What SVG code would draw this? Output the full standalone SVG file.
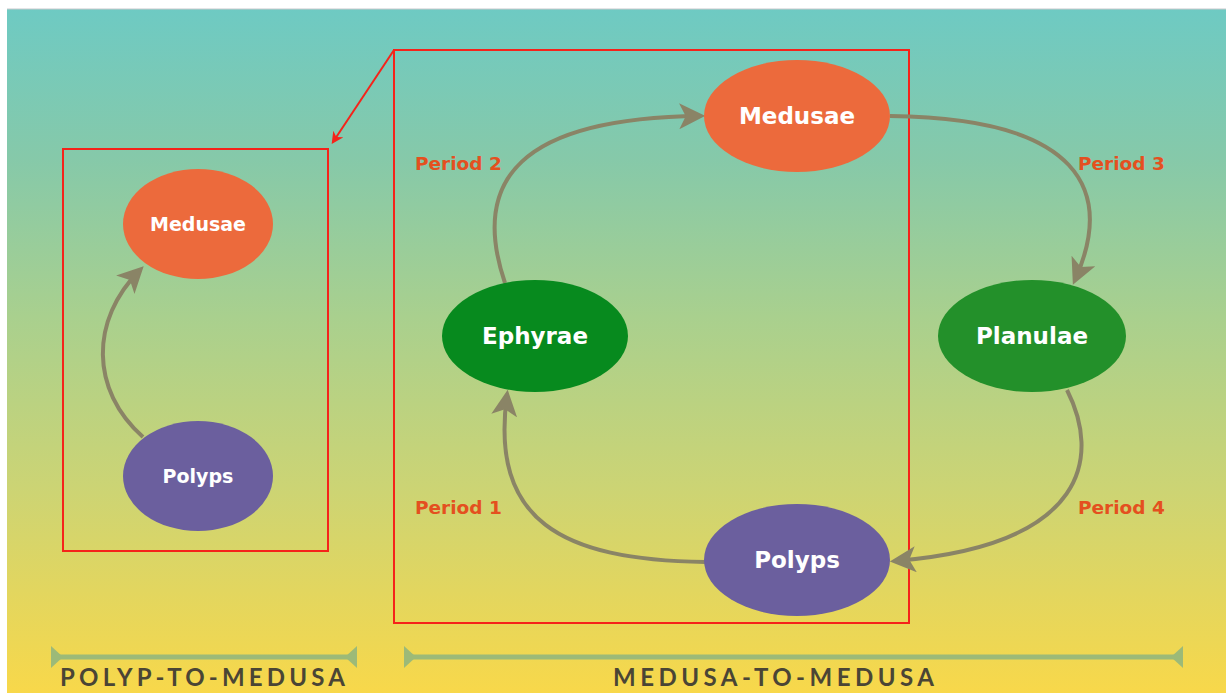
<svg xmlns="http://www.w3.org/2000/svg" width="1226" height="693" viewBox="0 0 1226 693">
<defs>
<linearGradient id="bg" x1="0" y1="0" x2="0" y2="1">
<stop offset="0" stop-color="#6ecac3"/>
<stop offset="0.22" stop-color="#86c9a9"/>
<stop offset="0.45" stop-color="#a9d08e"/>
<stop offset="0.7" stop-color="#ccd474"/>
<stop offset="1" stop-color="#f8d84a"/>
</linearGradient>
<marker id="ah" viewBox="0 0 10 10" refX="8" refY="5" markerWidth="6.5" markerHeight="6.5" orient="auto" markerUnits="strokeWidth">
<path d="M0,0 L10,5 L0,10 L2.5,5 z" fill="#8a8466"/>
</marker>
<marker id="rh" viewBox="0 0 10 10" refX="8" refY="5" markerWidth="6" markerHeight="6" orient="auto" markerUnits="strokeWidth">
<path d="M0,0 L10,5 L0,10 L3,5 z" fill="#f5231a"/>
</marker>
</defs>
<style>
.conn{fill:none;stroke:#8a8466;stroke-width:4;marker-end:url(#ah)}
.box{fill:none;stroke:#f5231a;stroke-width:2}
.lbl{font-family:"DejaVu Sans","Liberation Sans",sans-serif;font-weight:bold;font-size:18.5px;fill:#e4501f}
.nt{font-family:"DejaVu Sans","Liberation Sans",sans-serif;font-weight:bold;fill:#ffffff;text-anchor:middle}
.bar{stroke:#9cba78;stroke-width:5}
.tri{fill:#9cba78}
.cap{font-family:Lato,"Liberation Sans",sans-serif;font-weight:700;font-size:24px;fill:#4a4535}
</style>
<rect x="0" y="0" width="1226" height="693" fill="#ffffff"/>
<rect x="7" y="9" width="1219" height="684" fill="url(#bg)"/>
<line x1="7" y1="9" x2="1226" y2="9" stroke="#c8c8cc" stroke-width="1"/>

<g id="frames">
<rect class="box" x="63" y="149" width="265" height="402"/>
<rect class="box" x="394" y="50" width="515" height="573"/>
<line x1="394" y1="50" x2="333" y2="142" stroke="#f5231a" stroke-width="2" marker-end="url(#rh)"/>
</g>

<g id="connectors">
<path class="conn" d="M143,437 C90,390 90,320 140,270"/>
<path class="conn" d="M505,283 C470,180 520,118 700,116"/>
<path class="conn" d="M890,116 C1080,118 1115,190 1075,280"/>
<path class="conn" d="M1067,390 C1100,455 1090,545 895,561"/>
<path class="conn" d="M705,562 C560,560 490,520 507,395"/>
</g>

<g id="left-medusae">
<ellipse cx="198" cy="224" rx="75" ry="55" fill="#ec6a3c"/>
<text class="nt" x="198" y="231" font-size="19">Medusae</text>
</g>
<g id="left-polyps">
<ellipse cx="198" cy="476" rx="75" ry="55" fill="#6b5f9e"/>
<text class="nt" x="198" y="483" font-size="19">Polyps</text>
</g>
<g id="medusae">
<ellipse cx="797" cy="116" rx="93" ry="56" fill="#ec6a3c"/>
<text class="nt" x="797" y="124" font-size="23">Medusae</text>
</g>
<g id="ephyrae">
<ellipse cx="535" cy="336" rx="93" ry="56" fill="#078a1e"/>
<text class="nt" x="535" y="344" font-size="23">Ephyrae</text>
</g>
<g id="planulae">
<ellipse cx="1032" cy="336" rx="94" ry="56" fill="#23902a"/>
<text class="nt" x="1032" y="344" font-size="23">Planulae</text>
</g>
<g id="polyps">
<ellipse cx="797" cy="560" rx="93" ry="56" fill="#6b5f9e"/>
<text class="nt" x="797" y="568" font-size="23">Polyps</text>
</g>

<g id="labels">
<text class="lbl" x="415" y="170">Period 2</text>
<text class="lbl" x="1078" y="170">Period 3</text>
<text class="lbl" x="415" y="514">Period 1</text>
<text class="lbl" x="1078" y="514">Period 4</text>
</g>

<g id="scale-polyp-to-medusa">
<line class="bar" x1="54" y1="657" x2="354" y2="657"/>
<path class="tri" d="M51,646 L63,657 L51,668 z"/>
<path class="tri" d="M357,646 L345,657 L357,668 z"/>
<text class="cap" x="60" y="686" textLength="285" lengthAdjust="spacing">POLYP-TO-MEDUSA</text>
</g>
<g id="scale-medusa-to-medusa">
<line class="bar" x1="407" y1="657" x2="1180" y2="657"/>
<path class="tri" d="M404,646 L416,657 L404,668 z"/>
<path class="tri" d="M1183,646 L1171,657 L1183,668 z"/>
<text class="cap" x="613" y="686" textLength="321" lengthAdjust="spacing">MEDUSA-TO-MEDUSA</text>
</g>
</svg>
